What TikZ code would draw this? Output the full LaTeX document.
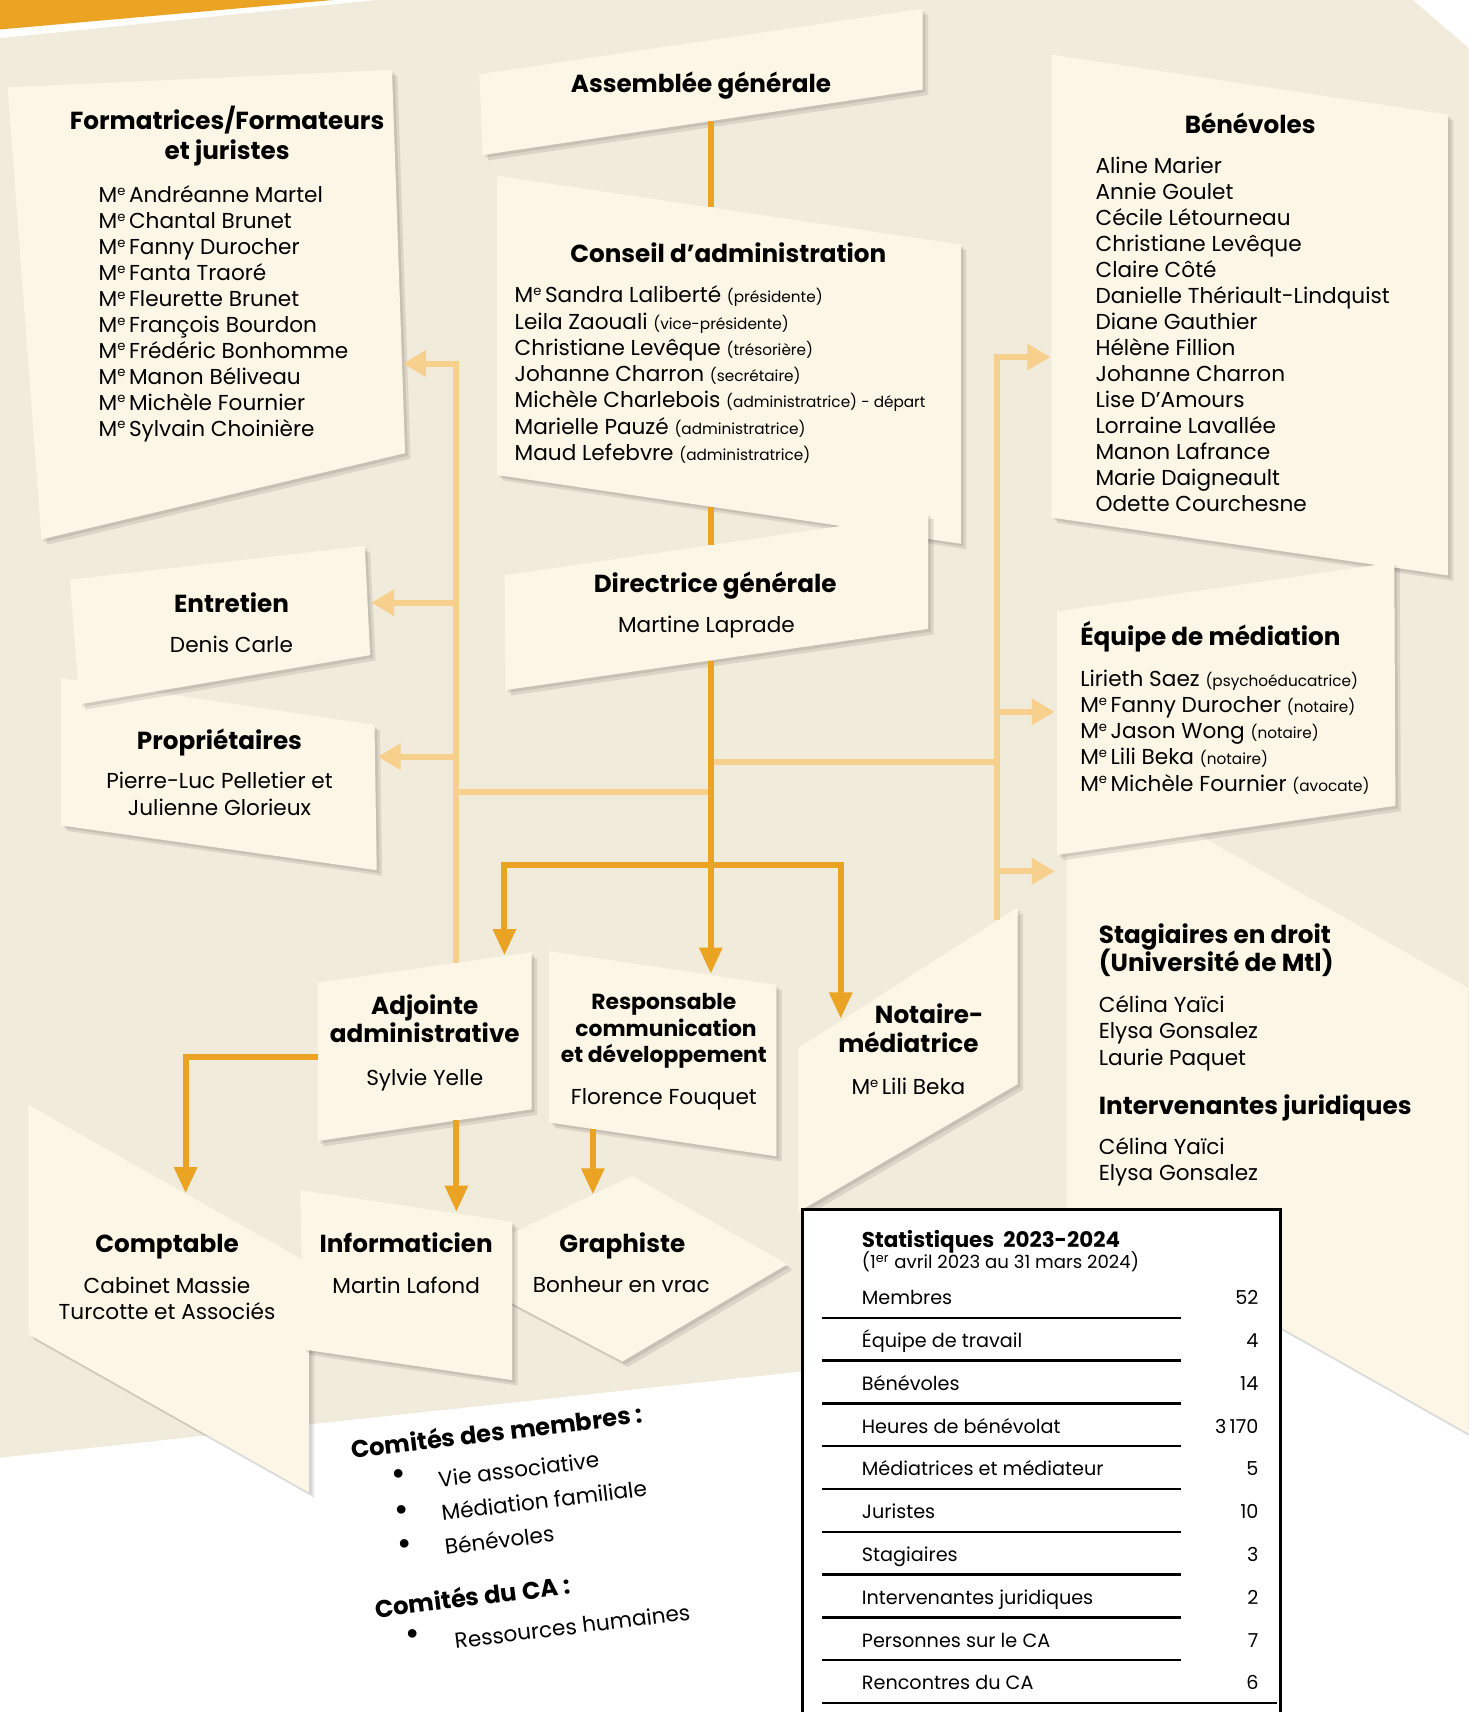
\documentclass[tikz,border=0pt]{standalone}
\usepackage{fontspec}
\setmainfont{Poppins}
\usetikzlibrary{arrows.meta}
\definecolor{bgbeige}{HTML}{F0EBDA}
\definecolor{cardc}{HTML}{FBF6E5}
\definecolor{orD}{HTML}{EBA324}
\definecolor{orL}{HTML}{F7D08E}
\newcommand\maitre[1]{M\raisebox{0.62ex}{\fontsize{6}{6}\selectfont e}\,#1}
\newcommand\petit[1]{{\fontsize{7}{8}\selectfont #1}}
\tikzset{
  cardfill/.style={fill=cardc},
  shadefill/.style={fill=black,opacity=0.09},
  darkline/.style={draw=orD,line width=2.8pt},
  darkarrow/.style={darkline,-{Triangle[width=10pt,length=12pt]}},
  lightline/.style={draw=orL,line width=2.8pt},
  lightarrow/.style={lightline,-{Triangle[width=11.5pt,length=10.5pt]}},
  ttl/.style={font=\fontsize{11.3}{13}\selectfont\bfseries,inner sep=0pt},
  ttls/.style={font=\fontsize{10}{12}\selectfont\bfseries,inner sep=0pt},
  txt/.style={font=\fontsize{9.9}{12}\selectfont,inner sep=0pt},
  sttl/.style={font=\fontsize{9.8}{11}\selectfont\bfseries,inner sep=0pt},
  stxt/.style={font=\fontsize{8.8}{10}\selectfont,inner sep=0pt},
  ssub/.style={font=\fontsize{8.3}{10}\selectfont,inner sep=0pt},
  rot/.style={rotate=7,inner sep=0pt,anchor=base west},
  rotb/.style={rot,font=\fontsize{11.1}{12}\selectfont\bfseries},
  roti/.style={rot,font=\fontsize{9.9}{12}\selectfont},
}
\newcommand\mycard[1]{%
  \fill[shadefill,shift={(5,5)}] #1 -- cycle;
  \fill[shadefill,shift={(2.5,2.5)}] #1 -- cycle;
  \fill[cardfill] #1 -- cycle;}
\begin{document}
\begin{tikzpicture}[x=0.5pt,y=-0.5pt]
\clip (0,0) rectangle (1345,1568);
\useasboundingbox (0,0) rectangle (1345,1568);
\fill[white] (0,0) rectangle (1345,1568);
\fill[bgbeige] (0,35) -- (345,0) -- (1294,0) -- (1345,44) -- (1345,1100) -- (1172,1200) -- (735,1256) -- (0,1335) -- cycle;
\fill[orD] (0,0) -- (305,0) -- (0,27) -- cycle;

% cards
\mycard{(7,80) -- (359,64) -- (371,415) -- (38,494)}
\mycard{(439,68) -- (845,8) -- (845,82) -- (442,142)}
\mycard{(455,161) -- (880,224) -- (880,498) -- (455,435)}
\mycard{(462,527) -- (850,470) -- (850,576) -- (463,632)}
\mycard{(963,50) -- (1326,105) -- (1326,527) -- (963,474)}
\mycard{(977,720) -- (1000,709) -- (1345,905) -- (1345,1313) -- (977,1105)}
\mycard{(968,560) -- (1277,515) -- (1278,738) -- (968,783)}
\mycard{(56,621) -- (343,664) -- (345,797) -- (56,756)}
\mycard{(64,531) -- (334,500) -- (339,600) -- (73,645)}
\mycard{(291,900) -- (487,872) -- (487,1016) -- (291,1045)}
\mycard{(503,871) -- (711,902) -- (711,1059) -- (503,1028)}
\mycard{(731,960) -- (932,831) -- (932,993) -- (731,1110)}
\mycard{(26,1012) -- (283,1157) -- (283,1367) -- (26,1222)}
\mycard{(579,1077) -- (721,1158) -- (570,1247) -- (405,1160)}
\mycard{(275,1090) -- (469,1119) -- (469,1264) -- (278,1236)}

% connector points
\coordinate (agB) at (651,111);
\coordinate (caT) at (651,190);
\coordinate (caB) at (651,464);
\coordinate (dgT) at (651,499);
\coordinate (dgB) at (651,605);
\coordinate (rcT) at (651,892);
\coordinate (hubD) at (651,792);
\coordinate (hubDL) at (462,792);
\coordinate (hubDR) at (770,792);
\coordinate (adT) at (462,875);
\coordinate (noT) at (770,933);
\coordinate (adL) at (291,968);
\coordinate (cpCorner) at (170,968);
\coordinate (cpT) at (170,1093);
\coordinate (adB) at (418,1026);
\coordinate (inT) at (418,1110);
\coordinate (rcB) at (543,1034);
\coordinate (grT) at (543,1094);
\coordinate (hubLR) at (651,698);
\coordinate (busR) at (913,698);
\coordinate (busRtop) at (913,327);
\coordinate (busRbot) at (913,843);
\coordinate (beL) at (962,327);
\coordinate (eqL) at (966,652);
\coordinate (stL) at (966,798);
\coordinate (hubLL) at (651,725);
\coordinate (busL) at (418,725);
\coordinate (busLtop) at (418,333);
\coordinate (busLbot) at (418,882);
\coordinate (foR) at (369,333);
\coordinate (enR) at (340,552);
\coordinate (prR) at (346,693);

% light connectors
\draw[lightline] (hubLR) -- (busR);
\draw[lightarrow] (busRbot) -- (busRtop) -- (beL);
\draw[lightarrow] (busR |- eqL) -- (eqL);
\draw[lightarrow] (busR |- stL) -- (stL);
\draw[lightline] (hubLL) -- (busL);
\draw[lightarrow] (busLbot) -- (busLtop) -- (foR);
\draw[lightarrow] (busL |- enR) -- (enR);
\draw[lightarrow] (busL |- prR) -- (prR);

% dark connectors
\draw[darkline] (agB) -- (caT);
\draw[darkline] (caB) -- (dgT);
\draw[darkarrow] (dgB) -- (rcT);
\draw[darkarrow] (hubD) -- (hubDL) -- (adT);
\draw[darkarrow] (hubD) -- (hubDR) -- (noT);
\draw[darkarrow] (adL) -- (cpCorner) -- (cpT);
\draw[darkarrow] (adB) -- (inT);
\draw[darkarrow] (rcB) -- (grT);

% Formatrices
\node[ttl,anchor=base] (foT1) at (208,119) {Formatrices/Formateurs};
\node[ttl,anchor=base] (foT2) at (208,146) {et juristes};
\foreach \t [count=\i from 0] in {\maitre{Andréanne Martel},\maitre{Chantal Brunet},\maitre{Fanny Durocher},\maitre{Fanta Traoré},\maitre{Fleurette Brunet},\maitre{François Bourdon},\maitre{Frédéric Bonhomme},\maitre{Manon Béliveau},\maitre{Michèle Fournier},\maitre{Sylvain Choinière}}
  \node[txt,anchor=base west] (fo\i) at (90,{185.5+23.78*\i}) {\t};

% Assemblee
\node[ttl,anchor=base] (ag) at (642,85) {Assemblée générale};

% Conseil
\node[ttl,anchor=base] (ca) at (667,240) {Conseil d’administration};
\foreach \t [count=\i from 0] in {\maitre{Sandra Laliberté} \petit{(présidente)},Leila Zaouali \petit{(vice-présidente)},Christiane Levêque \petit{(trésorière)},Johanne Charron \petit{(secrétaire)},Michèle Charlebois \petit{(administratrice) - départ},Marielle Pauzé \petit{(administratrice)},Maud Lefebvre \petit{(administratrice)}}
  \node[txt,anchor=base west] (ca\i) at (471,{277.5+24*\i}) {\t};

% Benevoles
\node[ttl,anchor=base] (be) at (1145,122) {Bénévoles};
\foreach \t [count=\i from 0] in {Aline Marier,Annie Goulet,Cécile Létourneau,Christiane Levêque,Claire Côté,Danielle Thériault-Lindquist,Diane Gauthier,Hélène Fillion,Johanne Charron,Lise D’Amours,Lorraine Lavallée,Manon Lafrance,Marie Daigneault,Odette Courchesne}
  \node[txt,anchor=base west] (be\i) at (1003,{158.5+23.85*\i}) {\t};

% Entretien, Proprietaires
\node[ttl,anchor=base] (en) at (212,561) {Entretien};
\node[txt,anchor=base] (en1) at (212,597.5) {Denis Carle};
\node[ttl,anchor=base] (pr) at (201,686) {Propriétaires};
\node[txt,anchor=base] (pr1) at (201,722.5) {Pierre-Luc Pelletier et};
\node[txt,anchor=base] (pr2) at (201,746.5) {Julienne Glorieux};

% Directrice
\node[ttl,anchor=base] (dg) at (655,543) {Directrice générale};
\node[txt,anchor=base] (dg1) at (647,579.5) {Martine Laprade};

% Equipe de mediation
\node[ttl,anchor=base west] (eq) at (989,591) {Équipe de médiation};
\foreach \t [count=\i from 0] in {Lirieth Saez \petit{(psychoéducatrice)},\maitre{Fanny Durocher} \petit{(notaire)},\maitre{Jason Wong} \petit{(notaire)},\maitre{Lili Beka} \petit{(notaire)},\maitre{Michèle Fournier} \petit{(avocate)}}
  \node[txt,anchor=base west] (eq\i) at (989,{628.5+24*\i}) {\t};

% Adjointe
\node[ttl,anchor=base] (ad1) at (389,929) {Adjointe};
\node[ttl,anchor=base] (ad2) at (389,955) {administrative};
\node[txt,anchor=base] (ad3) at (389,994.5) {Sylvie Yelle};

% Responsable
\node[ttls,anchor=base] (rc1) at (608,925) {Responsable};
\node[ttls,anchor=base] (rc2) at (610,949) {communication};
\node[ttls,anchor=base] (rc3) at (608,973) {et développement};
\node[txt,anchor=base] (rc4) at (608,1011.5) {Florence Fouquet};

% Notaire
\node[ttl,anchor=base] (no1) at (851,937) {Notaire-};
\node[ttl,anchor=base] (no2) at (832,964) {médiatrice};
\node[txt,anchor=base] (no3) at (832,1002.5) {\maitre{Lili Beka}};

% Stagiaires
\node[ttl,anchor=base west] (st1) at (1006,864) {Stagiaires en droit};
\node[ttl,anchor=base west] (st2) at (1006,890) {(Université de Mtl)};
\node[txt,anchor=base west] (st3) at (1006,927.5) {Célina Yaïci};
\node[txt,anchor=base west] (st4) at (1006,951.5) {Elysa Gonsalez};
\node[txt,anchor=base west] (st5) at (1006,975.5) {Laurie Paquet};
\node[ttl,anchor=base west] (ij1) at (1006,1021) {Intervenantes juridiques};
\node[txt,anchor=base west] (ij2) at (1006,1057.5) {Célina Yaïci};
\node[txt,anchor=base west] (ij3) at (1006,1081.5) {Elysa Gonsalez};

% Bottom cards
\node[ttl,anchor=base] (cp) at (153,1147) {Comptable};
\node[txt,anchor=base] (cp1) at (153,1184.5) {Cabinet Massie};
\node[txt,anchor=base] (cp2) at (153,1208.5) {Turcotte et Associés};
\node[ttl,anchor=base] (in) at (372,1147) {Informaticien};
\node[txt,anchor=base] (in1) at (372,1184.5) {Martin Lafond};
\node[ttl,anchor=base] (gr) at (570,1147) {Graphiste};
\node[txt,anchor=base] (gr1) at (569,1183.5) {Bonheur en vrac};

% Comites
\node[rotb] (cm) at (322,1336) {Comités des membres :};
\node[roti] (cm1) at (402,1362) {Vie associative};
\node[roti] (cm2) at (405,1393) {Médiation familiale};
\node[roti] (cm3) at (408,1424) {Bénévoles};
\node[rotb] (cc) at (344,1482) {Comités du CA :};
\node[roti] (cc1) at (417,1510) {Ressources humaines};
\foreach \p [count=\i] in {(365,1353),(368,1386),(371,1417),(378,1500)}
  \node[inner sep=0pt,font=\fontsize{16}{16}\selectfont] (bul\i) at \p {•};

% Statistiques
\draw[fill=white,line width=1.2pt] (735,1108) rectangle (1173,1600);
\node[sttl,anchor=base west] (sttitle) at (789,1143) {Statistiques\ \ 2023-2024};
\node[ssub,anchor=base west] (stsub) at (789,1162) {(1\textsuperscript{er} avril 2023 au 31 mars 2024)};
\foreach \lab/\val [count=\k from 0] in {Membres/52,Équipe de travail/4,Bénévoles/14,Heures de bénévolat/3\,170,Médiatrices et médiateur/5,Juristes/10,Stagiaires/3,Intervenantes juridiques/2,Personnes sur le CA/7,Rencontres du CA/6}{
  \node[stxt,anchor=base west] (sl\k) at (789,{1195+39.2*\k}) {\lab};
  \node[stxt,anchor=base east] (sv\k) at (1153,{1195+39.2*\k}) {\val};
}
\foreach \k in {0,...,8}
  \draw[line width=1.1pt] (753,{1207+39.2*\k}) -- (1082,{1207+39.2*\k});
\draw[line width=1.1pt] (753,1560) -- (1170,1560);
\end{tikzpicture}
\end{document}
